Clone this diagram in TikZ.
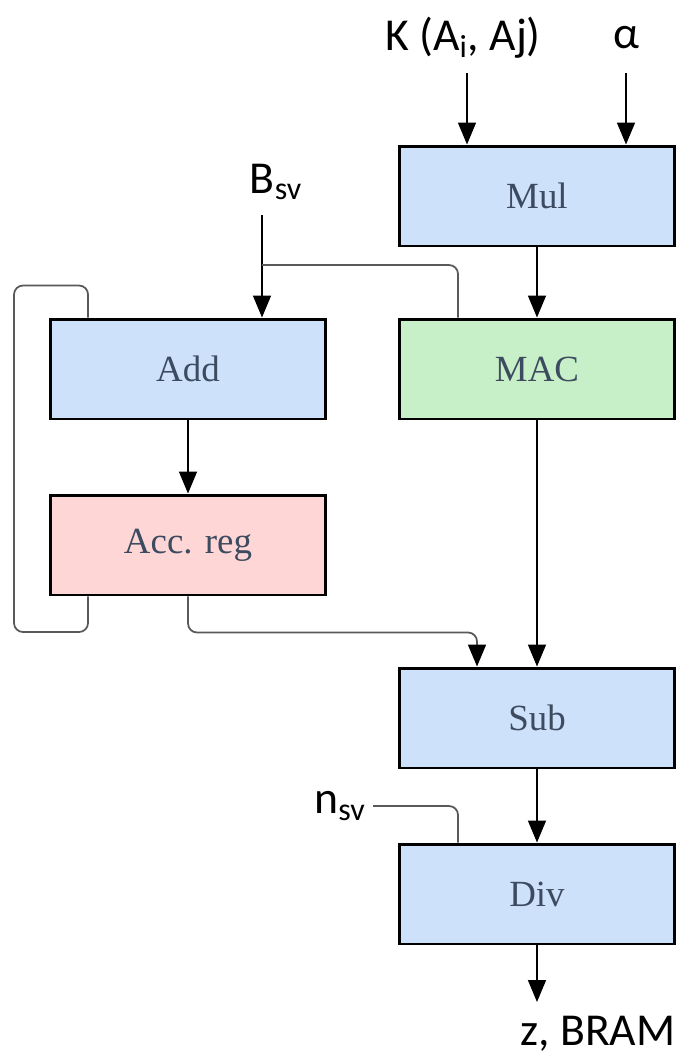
\documentclass[tikz,border=0pt]{standalone}
\usepackage{fontspec}
\setmainfont{Liberation Serif}
\newfontfamily\lblfont{Carlito}
\usetikzlibrary{arrows.meta,positioning}
\definecolor{blkblue}{RGB}{205,225,250}
\definecolor{blkgreen}{RGB}{200,240,200}
\definecolor{blkpink}{RGB}{255,214,214}
\definecolor{txtcol}{RGB}{60,75,95}

\begin{document}
\begin{tikzpicture}[x=0.02cm, y=-0.02cm, >={Triangle[length=0.44cm, width=0.36cm, color=black]},
    block/.style={draw, line width=1.7pt, rectangle, minimum width=5.5cm, minimum height=2.0cm, font=\fontsize{21}{24}\selectfont, text=txtcol},
    sig/.style={font=\lblfont\fontsize{26}{30}\selectfont, inner sep=0pt},
    wire/.style={draw=black!65, line width=1pt, rounded corners=0.18cm},
    flow/.style={->, line width=0.9pt}]
    \useasboundingbox (0,0) rectangle (678,1063);
    % Blocks
    \node[block, fill=blkblue] (mul) at (537,196) {Mul};
    \node[block, fill=blkblue] (add) at (188,369) {Add};
    \node[block, fill=blkgreen] (mac) at (537,369) {MAC};
    \node[block, fill=blkpink] (acc) at (188,545) {Acc. reg};
    \node[block, fill=blkblue] (sub) at (537,718) {Sub};
    \node[block, fill=blkblue] (div) at (537,894) {Div};
    % Signals
    \node[sig] (kij) at (463,38) {K (A\textsubscript{i}, Aj)};
    \node[sig] (alpha) at (626,38) {α};
    \node[sig] (bsv) at (276,182) {B\textsubscript{sv}};
    \node[sig, anchor=east] (nsv) at (366,806) {n\textsubscript{sv}};
    \node[sig] (zout) at (598,1034) {z, BRAM};
    \coordinate (kin) at (467,73);
    \coordinate (ain) at (626,73);
    \coordinate (bin) at (262,215);
    \coordinate (bsplit) at (262,265);
    \coordinate (zend) at (537,1002);
    % Arrows
    \draw[flow] (kin) -- (kin |- mul.north);
    \draw[flow] (ain) -- (ain |- mul.north);
    \draw[flow] (mul) -- (mac);
    \draw[flow] (bin) -- (bin |- add.north);
    \draw[wire] (bsplit) -| ([xshift=1.2cm]mac.north west);
    \draw[wire] ([xshift=0.78cm]add.north west) -- ++(0,-32) -| (14,632) -| ([xshift=0.78cm]acc.south west);
    \draw[flow] (add) -- (acc);
    \draw[wire, ->] (acc.south) -- ++(0,36) -| ([xshift=1.58cm]sub.north west);
    \draw[flow] (mac) -- (sub);
    \draw[flow] (sub) -- (div);
    \draw[wire] ([xshift=4pt]nsv.east) -| ([xshift=1.2cm]div.north west);
    \draw[flow] (div) -- (zend);
\end{tikzpicture}
\end{document}
